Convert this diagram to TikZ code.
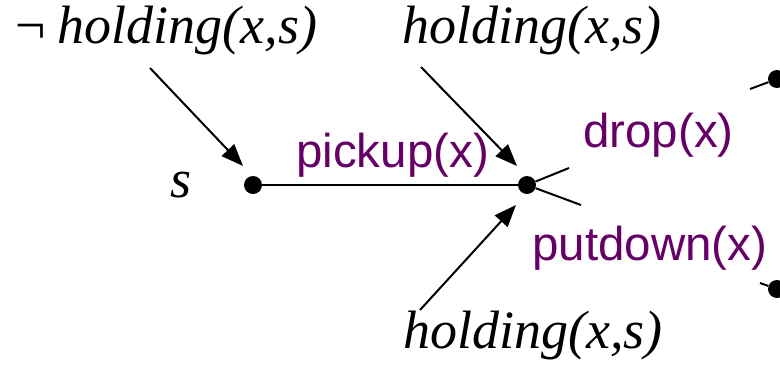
\documentclass[tikz,border=0pt]{standalone}
\usepackage{fontspec}
\setmainfont{Liberation Serif}
\setsansfont{Liberation Sans}
\usetikzlibrary{arrows.meta, positioning}
\definecolor{actpurple}{RGB}{102,0,102}
\tikzset{
  state/.style={circle,fill,inner sep=0pt,minimum size=18pt},
  cond/.style={font=\fontsize{54}{54}\selectfont\itshape,inner sep=0pt,anchor=base west},
  act/.style={font=\sffamily\fontsize{47.5}{47.5}\selectfont,text=actpurple,inner sep=0pt,anchor=base west},
  line/.style={-{Triangle[length=22pt,width=17pt]},line width=2pt},
  edge/.style={line width=2pt}
}

\begin{document}
\begin{tikzpicture}[x=1pt,y=-1pt]
\useasboundingbox (0,0) rectangle (780,370);
\node[state] (s0) at (253,185) {};
\node[state] (s1) at (527,185) {};
\node[state] (s2) at (777,79) {};
\node[state] (s3) at (777,289) {};
\node[cond] (sname) at (170,197) {s};
\node[cond] (notholding) at (15,43) {{\upshape ¬}\hspace{12pt}holding(x,s)};
\node[cond] (holdtop) at (402,43) {holding(x,s)};
\node[cond] (holdbot) at (403,348) {holding(x,s)};
\node[act] (pickup) at (296,167) {pickup(x)};
\node[act] (drop) at (583,147) {drop(x)};
\node[act] (putdown) at (532,260) {putdown(x)};
\coordinate (n1) at (150,68);
\coordinate (n2) at (421,67);
\coordinate (n3) at (420,310);
\coordinate (b1) at (569,168);
\coordinate (b2) at (581,205);
\coordinate (b3) at (750,89);
\coordinate (b4) at (760,283);
\draw[edge] (s0) -- (s1);
\draw[line] (n1) -- ([shift={(-10,-19)}]s0.center);
\draw[line] (n2) -- ([shift={(-10,-19)}]s1.center);
\draw[line] (n3) -- ([shift={(-11,20)}]s1.center);
\draw[edge] (s1) -- (b1);
\draw[edge] (s1) -- (b2);
\draw[edge] (b3) -- (s2);
\draw[edge] (b4) -- (s3);
\end{tikzpicture}
\end{document}
